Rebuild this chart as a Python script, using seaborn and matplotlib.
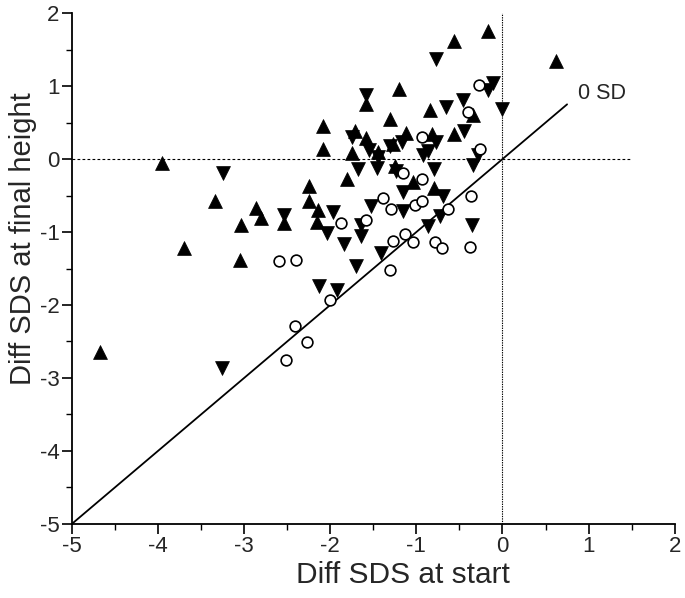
import pandas as pd
import matplotlib
matplotlib.use('Agg')
import matplotlib.pyplot as plt
import seaborn as sns
from matplotlib.ticker import MultipleLocator

# ----- data -----
up_x = [-4.67, -3.95, -3.70, -3.34, -3.04, -3.05, -2.86, -2.80, -2.54, -2.25,
        -2.25, -2.14, -2.15, -2.08, -2.08, -1.81, -1.71, -1.75, -1.58, -1.59,
        -1.45, -1.31, -1.27, -1.20, -1.12, -1.25, -1.04, -0.82, -0.84, -0.56,
        -0.56, -0.17, 0.62, -0.34, -0.80]
up_y = [-2.65, -0.05, -1.22, -0.58, -0.91, -1.38, -0.67, -0.81, -0.88, -0.37,
        -0.58, -0.70, -0.86, 0.46, 0.14, -0.27, 0.38, 0.08, 0.75, 0.29,
        0.10, 0.55, 0.21, 0.96, 0.36, -0.09, -0.31, 0.34, 0.67, 0.34,
        1.62, 1.75, 1.34, 0.61, -0.39]

down_x = [-3.25, -3.26, -2.54, -2.04, -1.97, -1.84, -1.64, -1.64, -1.53, -2.13,
          -1.92, -1.70, -1.41, -1.58, -1.75, -1.55, -1.44, -1.46, -1.31, -1.17,
          -1.24, -1.68, -1.16, -1.16, -0.77, -0.86, -0.92, -0.80, -0.66, -0.46,
          -0.45, -0.77, -0.11, -0.17, 0.00, -0.29, -0.34, -0.69, -0.73, -0.86,
          -0.35]
down_y = [-0.19, -2.87, -0.77, -1.01, -0.73, -1.16, -0.90, -1.06, -0.65, -1.74,
          -1.80, -1.46, -1.29, 0.88, 0.30, 0.13, 0.03, -0.12, 0.18, 0.24,
          -0.17, -0.14, -0.45, -0.71, 0.24, 0.11, 0.05, -0.13, 0.71, 0.81,
          0.38, 1.37, 1.04, 0.95, 0.69, 0.05, -0.08, -0.51, -0.78, -0.92,
          -0.90]

circ_x = [-2.60, -2.40, -1.87, -1.58, -2.00, -2.41, -2.27, -2.51, -1.27, -1.31,
          -1.13, -1.04, -0.78, -0.70, -0.38, -1.39, -1.29, -1.02, -0.94, -0.63,
          -0.36, -1.15, -0.93, -0.93, -0.26, -0.27, -0.40]
circ_y = [-1.40, -1.39, -0.88, -0.83, -1.93, -2.29, -2.51, -2.76, -1.12, -1.52,
          -1.03, -1.14, -1.14, -1.22, -1.20, -0.54, -0.69, -0.63, -0.57, -0.68,
          -0.50, -0.19, -0.27, 0.30, 0.14, 1.01, 0.64]

line_x = [-5, 0.75]
line_label = '0 SD'
xlabel = 'Diff SDS at start'
ylabel = 'Diff SDS at final height'


def main():
    sns.set_style('white')
    plt.rcParams['font.family'] = ['Liberation Sans', 'DejaVu Sans']
    plt.rcParams['axes.unicode_minus'] = False

    up = pd.DataFrame({'x': up_x, 'y': up_y})
    down = pd.DataFrame({'x': down_x, 'y': down_y})
    circ = pd.DataFrame({'x': circ_x, 'y': circ_y})

    fig = plt.figure(figsize=(6.85, 5.98), dpi=100)
    ax = fig.add_axes([0.105, 0.124, 0.88, 0.854])

    # reference lines
    ax.plot([-5, 1.5], [0, 0], color='black', lw=0.8, ls=(0, (2.5, 2)), zorder=1)
    ax.plot([0, 0], [-5, 2], color='black', lw=0.8, ls=(0, (1.2, 1)), zorder=1)
    ax.plot(line_x, line_x, color='black', lw=1.3, zorder=2)
    ax.text(line_x[1] + 0.13, line_x[1] + 0.15, line_label, fontsize=15.5,
            ha='left', va='center')

    sns.scatterplot(data=up, x='x', y='y', marker='^', s=100, color='black',
                    edgecolor='black', linewidth=0.5, ax=ax, zorder=3)
    sns.scatterplot(data=down, x='x', y='y', marker='v', s=100, color='black',
                    edgecolor='black', linewidth=0.5, ax=ax, zorder=3)
    sns.scatterplot(data=circ, x='x', y='y', marker='o', s=60, facecolor='white',
                    edgecolor='black', linewidth=1.2, ax=ax, zorder=3)

    ax.set_xlim(-5, 2)
    ax.set_ylim(-5, 2)
    ax.spines['top'].set_visible(False)
    ax.spines['right'].set_visible(False)
    for s in ['left', 'bottom']:
        ax.spines[s].set_linewidth(1.3)
        ax.spines[s].set_color('black')

    ax.xaxis.set_major_locator(MultipleLocator(1))
    ax.yaxis.set_major_locator(MultipleLocator(1))
    ax.xaxis.set_minor_locator(MultipleLocator(0.5))
    ax.yaxis.set_minor_locator(MultipleLocator(0.5))
    ax.tick_params(which='major', direction='out', length=7, width=1.2,
                   labelsize=16, color='black', bottom=True, left=True, pad=2)
    ax.tick_params(which='minor', direction='out', length=4, width=1.0,
                   color='black', bottom=True, left=True)

    ax.set_xlabel(xlabel, fontsize=21.5)
    ax.set_ylabel(ylabel, fontsize=21)
    ax.xaxis.set_label_coords(0.549, -0.072)
    ax.yaxis.set_label_coords(-0.058, 0.558)

    fig.savefig('out.png', dpi=100)


if __name__ == '__main__':
    main()
